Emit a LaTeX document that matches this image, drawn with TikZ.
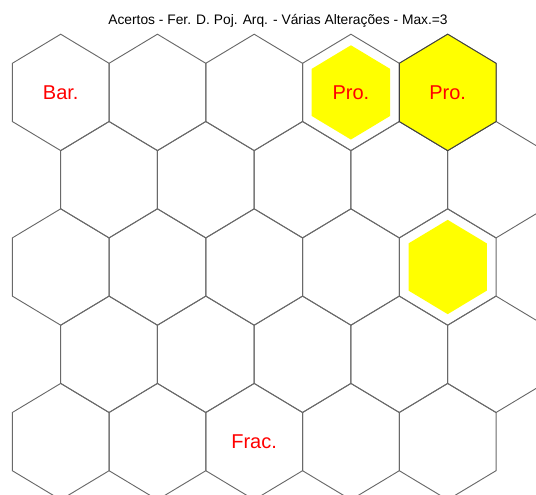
\documentclass[tikz,border=0pt]{standalone}
\usepackage{fontspec}
\setmainfont{Liberation Sans}
\usepackage{xcolor}
\usepackage{tikz}
\usetikzlibrary{positioning, calc}

\definecolor{gridgray}{RGB}{105,105,105}
\definecolor{cellyellow}{RGB}{255,255,0}
\definecolor{cellred}{RGB}{255,0,0}

\begin{document}
\begin{tikzpicture}[x=0.75pt, y=-0.75pt,
    hexline/.style={draw=gridgray, line width=0.7pt, line join=miter},
    celltext/.style={font=\fontsize{15}{18}\selectfont, text=cellred}]
    \clip (0,0) rectangle (536,494);
    \def\hexpath{(0,-58.2) -- (48.37,-29.1) -- (48.37,29.1) -- (0,58.2) -- (-48.37,29.1) -- (-48.37,-29.1) -- cycle}
    % Hex grid, 5 rows x 5 columns, even rows shifted right
    \foreach \r in {1,...,5} {
        \foreach \c in {1,...,5} {
            \pgfmathsetmacro{\cx}{60.7 + 96.74*(\c-1) + 48.37*(1-mod(\r,2))}
            \pgfmathsetmacro{\cy}{92.4 + 87.3*(\r-1)}
            \draw[hexline, shift={(\cx,\cy)}] \hexpath;
        }
    }
    % Full yellow cell
    \filldraw[fill=cellyellow, draw=black!75, line width=0.7pt, shift={(447.7,92.4)}] \hexpath;
    % Inner yellow cells
    \foreach \cx/\cy in {350.9/92.4, 447.7/267} {
        \fill[cellyellow, shift={(\cx,\cy)}, scale=0.81] \hexpath;
    }
    % Labels
    \node[celltext] (bar) at (60.7,92.4) {Bar.};
    \node[celltext] (pro1) at (350.9,92.4) {Pro.};
    \node[celltext] (pro2) at (447.7,92.4) {Pro.};
    \node[celltext] (frac) at (254.1,441.6) {Frac.};
    \node[font=\fontsize{10.35}{12}\selectfont] (title) at (278,21) {Acertos - Fer. D. Poj. Arq. - Várias Alterações - Max.=3};
\end{tikzpicture}
\end{document}
